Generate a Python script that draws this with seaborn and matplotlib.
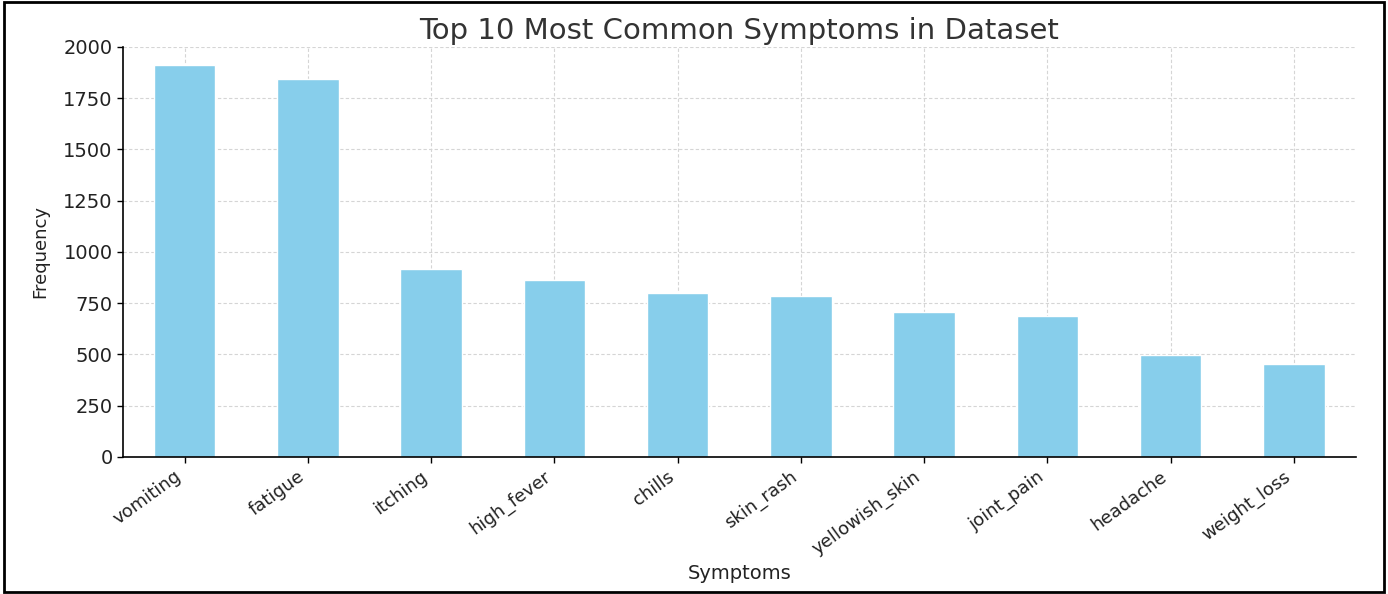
import matplotlib
matplotlib.use('Agg')
import matplotlib.pyplot as plt
import pandas as pd
import seaborn as sns
from matplotlib.patches import Rectangle



# Data
symptoms = ['vomiting', 'fatigue', 'itching', 'high_fever', 'chills',
            'skin_rash', 'yellowish_skin', 'joint_pain', 'headache', 'weight_loss']
frequency = [1914, 1845, 918, 864, 800, 786, 706, 688, 496, 455]

df = pd.DataFrame({'Symptom': symptoms, 'Frequency': frequency})



# Bar chart
sns.set_style('white')
fig = plt.figure(figsize=(13.88, 5.94), dpi=100)
ax = fig.add_axes([0.0886, 0.231, 0.888, 0.690])

sns.barplot(x='Symptom', y='Frequency', data=df, color='skyblue',
            width=0.5, saturation=1, ax=ax, zorder=2)

ax.set_xlim(-0.5, len(symptoms) - 0.5)
ax.set_ylim(0, 2000)
ax.set_yticks(range(0, 2001, 250))
ax.grid(True, linestyle=(0, (3, 2)), color='#d5d5d5', linewidth=0.8, zorder=0)
ax.set_axisbelow(True)
sns.despine(ax=ax)
for s in ['left', 'bottom']:
    ax.spines[s].set_color('black')
    ax.spines[s].set_linewidth(1.2)

ax.tick_params(axis='both', which='both', direction='out', length=4, width=1,
               color='black', labelsize=14, labelcolor='#222222',
               bottom=True, left=True)
ax.tick_params(axis='x', labelsize=13)
plt.setp(ax.get_xticklabels(), rotation=36, ha='right')

ax.set_title('Top 10 Most Common Symptoms in Dataset', fontsize=21,
             color='#333333', pad=6)
ax.set_xlabel('Symptoms', fontsize=14, color='#222222')
ax.xaxis.set_label_coords(0.5, -0.284)
ax.xaxis.label.set_va('center')
ax.set_ylabel('Frequency', fontsize=13, color='#222222', labelpad=10)

# outer border
fig.patches.append(Rectangle((0.003, 0.003), 0.994, 0.994, transform=fig.transFigure,
                             fill=False, edgecolor='black', linewidth=2))

fig.savefig('out.png', dpi=100)
